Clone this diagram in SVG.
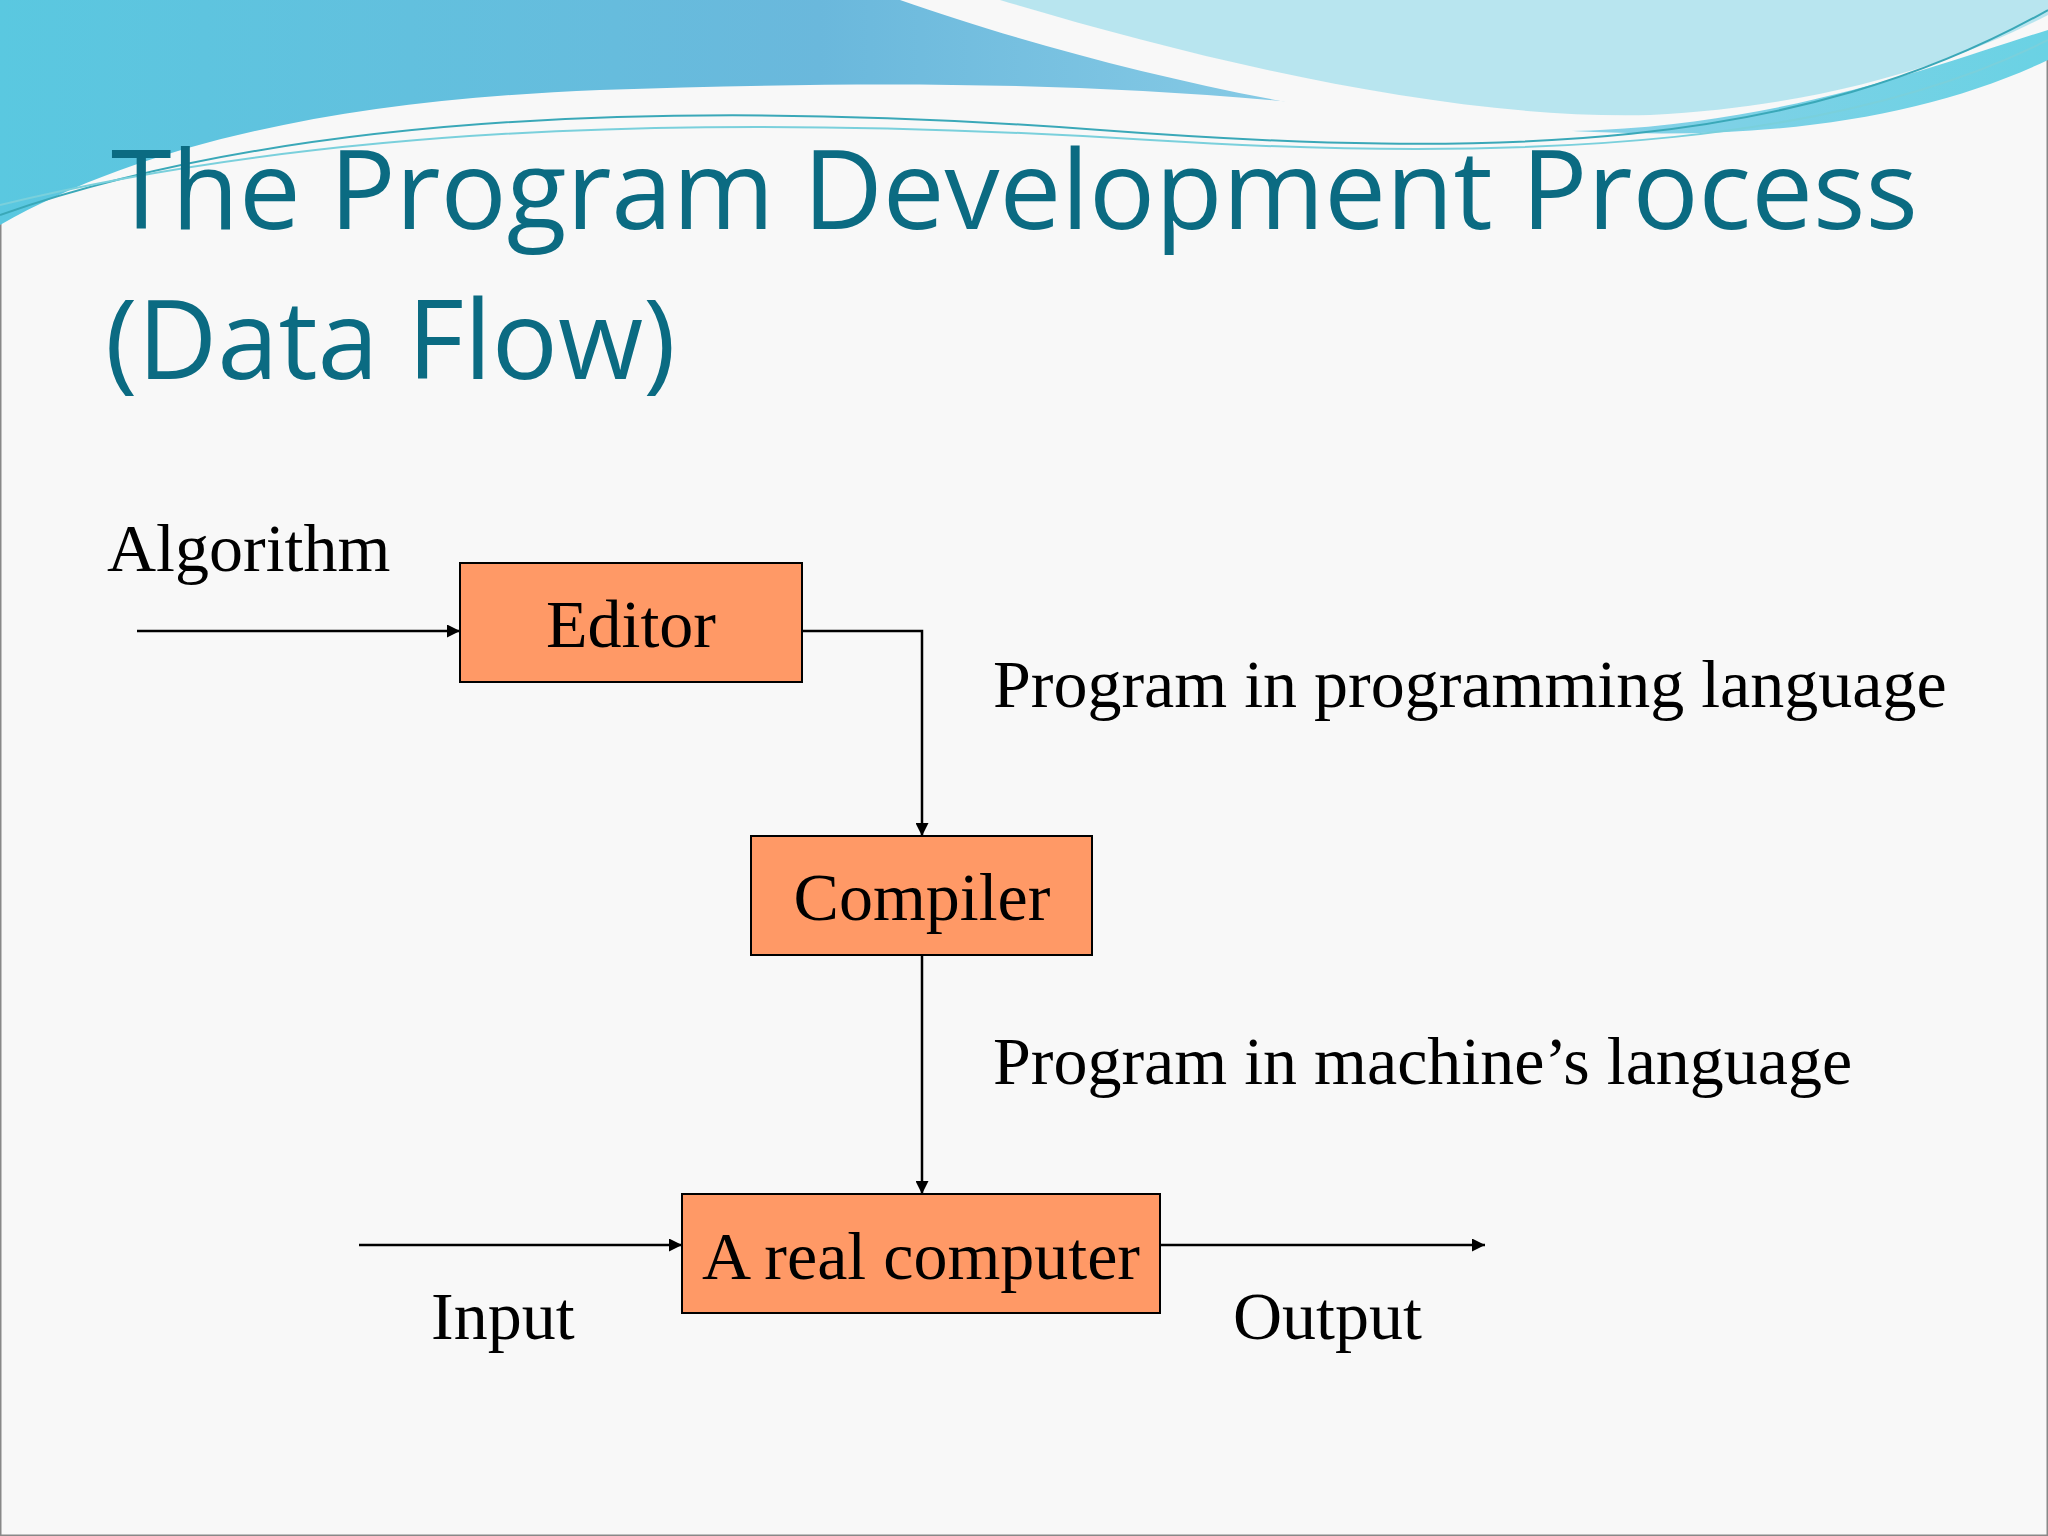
<svg xmlns="http://www.w3.org/2000/svg" width="2048" height="1536" viewBox="0 0 2048 1536">
<defs>
<linearGradient id="wv" x1="0" y1="0" x2="1" y2="0">
<stop offset="0" stop-color="#5ac8e0"/><stop offset="0.4" stop-color="#6ab8dc"/><stop offset="0.7" stop-color="#8fd0e8"/><stop offset="1" stop-color="#6ad2e4"/>
</linearGradient>
<marker id="ah" viewBox="0 0 10 10" refX="10" refY="5" markerWidth="13" markerHeight="13" markerUnits="userSpaceOnUse" orient="auto"><path d="M0,0 L10,5 L0,10 z" fill="#000"/></marker>
<style>
.box{fill:#ff9966;stroke:#000;stroke-width:2}
.lbl{font-family:"Liberation Serif",serif;font-size:68px;fill:#000}
.ttl{font-family:"Open Sans","Liberation Sans",sans-serif;font-size:110px;fill:#0b6b82}
.ln{fill:none;stroke:#000;stroke-width:2.5}
</style>
</defs>
<rect width="2048" height="1536" fill="#f8f8f8" stroke="#888" stroke-width="3"/>
<g id="wave">
<path d="M0,0 H2048 V60 C1900,130 1700,150 1450,120 C1150,80 900,80 600,90 C350,100 150,140 0,225 Z" fill="url(#wv)"/>
<path d="M900,0 C1100,70 1400,140 1600,130 C1800,120 1950,60 2048,30 V0 Z" fill="#f8f8f8"/>
<path d="M1000,0 C1200,60 1450,120 1650,115 C1850,105 1980,50 2048,15 V0 Z" fill="#a8e0ec" opacity="0.8"/>
<path d="M0,215 C300,110 700,100 1100,130 C1500,160 1800,150 2048,10" fill="none" stroke="#3aa8b8" stroke-width="2"/>
<path d="M0,205 C350,120 750,115 1150,140 C1550,165 1850,140 2048,40" fill="none" stroke="#7ad0dc" stroke-width="2"/>
</g>
<text class="ttl" x="111" y="229">The Program Development Process</text>
<text class="ttl" x="105" y="379">(Data Flow)</text>
<g id="connectors">
<line class="ln" x1="137" y1="631" x2="460" y2="631" marker-end="url(#ah)"/>
<polyline class="ln" points="802,631 922,631 922,836" marker-end="url(#ah)"/>
<line class="ln" x1="922" y1="955" x2="922" y2="1194" marker-end="url(#ah)"/>
<line class="ln" x1="359" y1="1245" x2="682" y2="1245" marker-end="url(#ah)"/>
<line class="ln" x1="1160" y1="1245" x2="1485" y2="1245" marker-end="url(#ah)"/>
</g>
<g id="editor"><rect class="box" x="460" y="563" width="342" height="119"/><text class="lbl" x="631" y="647" text-anchor="middle">Editor</text></g>
<g id="compiler"><rect class="box" x="751" y="836" width="341" height="119"/><text class="lbl" x="922" y="920" text-anchor="middle">Compiler</text></g>
<g id="computer"><rect class="box" x="682" y="1194" width="478" height="119"/><text class="lbl" x="921" y="1279" text-anchor="middle">A real computer</text></g>
<text class="lbl" x="107" y="571">Algorithm</text>
<text class="lbl" x="993" y="707">Program in programming language</text>
<text class="lbl" x="993" y="1084">Program in machine’s language</text>
<text class="lbl" x="431" y="1339">Input</text>
<text class="lbl" x="1233" y="1339">Output</text>
</svg>
